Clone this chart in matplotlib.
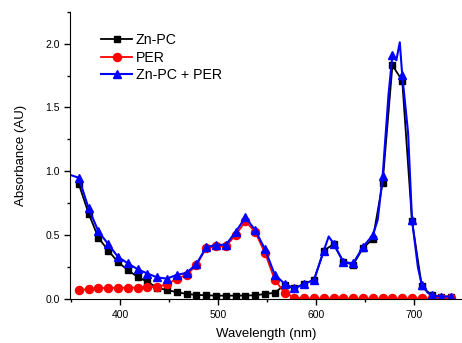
import matplotlib
matplotlib.use('Agg')
import matplotlib.pyplot as plt
from matplotlib.ticker import MultipleLocator

plt.rcParams['font.family'] = ['Liberation Sans', 'DejaVu Sans']

# wavelengths where the symbols sit (nm)
wl = [358, 368, 378, 388, 398, 408, 418, 428, 438, 448,
      458, 468, 478, 488, 498, 508, 518, 528, 538, 548,
      558, 568, 578, 588, 598, 608, 618, 628, 638, 648,
      658, 668, 678, 688, 698, 708, 718, 728, 738]

znpc = [0.90, 0.67, 0.48, 0.38, 0.29, 0.227, 0.174, 0.135, 0.09, 0.07,
        0.055, 0.04, 0.033, 0.03, 0.027, 0.027, 0.027, 0.028, 0.03, 0.04,
        0.05, 0.11, 0.083, 0.12, 0.15, 0.38, 0.43, 0.29, 0.27, 0.40,
        0.47, 0.91, 1.83, 1.71, 0.61, 0.10, 0.03, 0.02, 0.02]

per = [0.07, 0.078, 0.085, 0.088, 0.088, 0.09, 0.09, 0.093, 0.096, 0.115,
       0.16, 0.19, 0.265, 0.40, 0.415, 0.415, 0.50, 0.61, 0.525, 0.36,
       0.15, 0.05, 0.012, 0.005, 0.005, 0.005, 0.005, 0.005, 0.005, 0.005,
       0.005, 0.005, 0.005, 0.005, 0.005, 0.005, 0.005, 0.005, 0.005]

mix = [0.95, 0.71, 0.53, 0.43, 0.33, 0.28, 0.234, 0.20, 0.17, 0.16,
       0.19, 0.205, 0.275, 0.405, 0.425, 0.425, 0.525, 0.64, 0.54, 0.39,
       0.19, 0.12, 0.083, 0.12, 0.15, 0.38, 0.435, 0.29, 0.28, 0.41,
       0.50, 0.96, 1.91, 1.755, 0.62, 0.11, 0.03, 0.02, 0.02]

# extra points of the mixture spectrum between symbols
mix_extra_wl = [350, 613, 663, 674, 682, 685.5, 694, 704, 714]
mix_extra = [0.97, 0.49, 0.62, 1.60, 1.87, 2.01, 1.30, 0.25, 0.05]

mix_line = sorted(zip(wl + mix_extra_wl, mix + mix_extra))
mix_line_wl = [p[0] for p in mix_line]
mix_line_abs = [p[1] for p in mix_line]

fig = plt.figure(figsize=(4.62, 3.43), dpi=100)
ax = fig.add_axes([0.1515, 0.128, 0.8485, 0.838])

ax.plot(wl, znpc, color='black', lw=1.3, marker='s', ms=5, label='Zn-PC')
ax.plot(wl, per, color='red', lw=1.3, marker='o', ms=5.8, label='PER')
ax.plot(mix_line_wl, mix_line_abs, color='blue', lw=1.5)
ax.plot(wl, mix, color='blue', lw=0, marker='^', ms=6.2)
# legend entry for the mixture
ax.plot([], [], color='blue', lw=1.5, marker='^', ms=6.2, label='Zn-PC + PER')

ax.set_xlim(349, 749)
ax.set_ylim(0, 2.25)
ax.xaxis.set_major_locator(MultipleLocator(100))
ax.xaxis.set_minor_locator(MultipleLocator(50))
ax.yaxis.set_major_locator(MultipleLocator(0.5))
ax.yaxis.set_minor_locator(MultipleLocator(0.25))
ax.yaxis.set_major_formatter(matplotlib.ticker.FormatStrFormatter('%.1f'))

ax.spines['top'].set_visible(False)
ax.spines['right'].set_visible(False)
ax.tick_params(which='major', direction='out', length=4, width=1, labelsize=7.5)
ax.tick_params(which='minor', direction='out', length=2.5, width=1)

ax.set_xlabel('Wavelength (nm)', fontsize=9.5, labelpad=6)
ax.set_ylabel('Absorbance (AU)', fontsize=9.5, labelpad=13)

ax.legend(loc='upper left', bbox_to_anchor=(0.065, 0.945), frameon=False,
          fontsize=10.2, handlelength=2.2, handletextpad=0.25,
          labelspacing=0.25, borderaxespad=0)

fig.savefig('out.png', dpi=100)
